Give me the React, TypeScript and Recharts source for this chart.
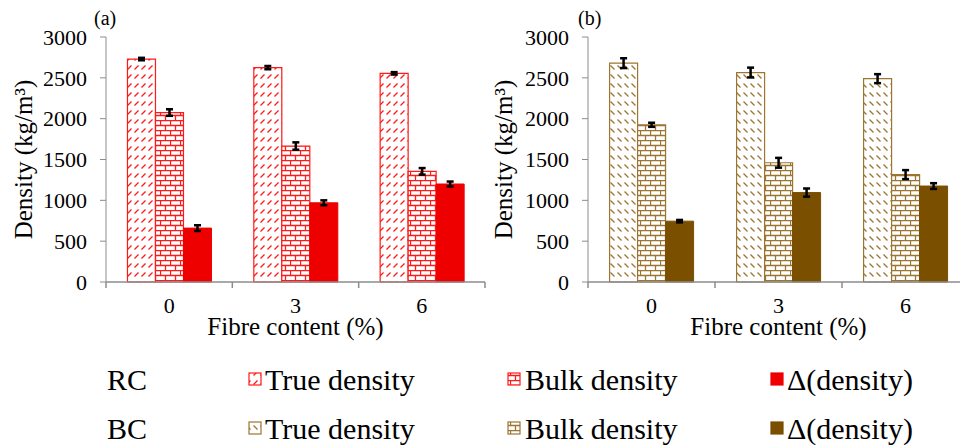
import React from "react";
import { BarChart, Bar, XAxis, YAxis, ErrorBar } from "recharts";

const SERIF = "'Liberation Serif', 'Times New Roman', serif";

const categories = ["0", "3", "6"];
const yTicks = [0, 500, 1000, 1500, 2000, 2500, 3000];

// RC composites, panel (a)
const rcTrue = [2730, 2625, 2555];
const rcTrueErr = [15, 20, 15];
const rcBulk = [2075, 1665, 1355];
const rcBulkErr = [40, 45, 40];
const rcDelta = [660, 970, 1200];
const rcDeltaErr = [35, 30, 30];

// BC composites, panel (b)
const bcTrue = [2680, 2565, 2490];
const bcTrueErr = [60, 60, 55];
const bcBulk = [1925, 1460, 1315];
const bcBulkErr = [25, 60, 55];
const bcDelta = [745, 1095, 1175];
const bcDeltaErr = [15, 50, 35];

const seriesNames = ["True density", "Bulk density", "\u0394(density)"];
const groupNames = ["RC", "BC"];

const RED = "#ff1a1a";
const RED_FILL = "#ee0000";
const BROWN = "#9c7531";
const BROWN_FILL = "#7a4f00";

const buildRows = (t: number[], te: number[], b: number[], be: number[], d: number[], de: number[]) =>
  categories.map((name, i) => ({
    name,
    t: t[i],
    tErr: te[i],
    b: b[i],
    bErr: be[i],
    d: d[i],
    dErr: de[i],
  }));

const rcData = buildRows(rcTrue, rcTrueErr, rcBulk, rcBulkErr, rcDelta, rcDeltaErr);
const bcData = buildRows(bcTrue, bcTrueErr, bcBulk, bcBulkErr, bcDelta, bcDeltaErr);

const CHART_H = 345;
const PLOT_TOP = 37;
const X_AXIS_H = 63;
const AXIS_Y = CHART_H - X_AXIS_H;
const Y_AXIS_W = 70;
const AXIS_GREY = "#8c8c8c";

type PanelProps = {
  data: typeof rcData;
  left: number;
  width: number;
  marginLeft: number;
  marginRight: number;
  titleX: number;
  prefix: string;
  line: string;
  solid: string;
};

function Panel({ data, left, width, marginLeft, marginRight, titleX, prefix, line, solid }: PanelProps) {
  const plotLeft = marginLeft + Y_AXIS_W;
  const plotW = width - plotLeft - marginRight;
  const band = plotW / categories.length;

  // category label at the centre, tick marks on the category boundaries
  const catTick = (p: any) => {
    const last = p.index === categories.length - 1;
    return (
      <g>
        <line x1={p.x - band / 2} x2={p.x - band / 2} y1={AXIS_Y} y2={AXIS_Y + 6} stroke={AXIS_GREY} strokeWidth={1.5} />
        {last && (
          <line x1={p.x + band / 2} x2={p.x + band / 2} y1={AXIS_Y} y2={AXIS_Y + 6} stroke={AXIS_GREY} strokeWidth={1.5} />
        )}
        <text x={p.x} y={AXIS_Y + 31} textAnchor="middle" fontSize={22} fontFamily={SERIF} fill="#000">
          {p.payload.value}
        </text>
      </g>
    );
  };

  const err = { width: 3.5, strokeWidth: 2.5, stroke: "#000", direction: "y" as const };

  return (
    <div style={{ position: "absolute", left, top: 0 }}>
      <BarChart
        width={width}
        height={CHART_H}
        data={data}
        margin={{ top: PLOT_TOP, right: marginRight, left: marginLeft, bottom: 0 }}
        barCategoryGap="17%"
        barGap={0}
      >
        <XAxis
          dataKey="name"
          height={X_AXIS_H}
          interval={0}
          axisLine={{ stroke: AXIS_GREY, strokeWidth: 1.5 }}
          tickLine={false}
          tick={catTick}
          label={{
            content: () => (
              <text x={plotLeft + plotW / 2} y={AXIS_Y + 53} textAnchor="middle" fontSize={25} fontFamily={SERIF} fill="#000">
                Fibre content (%)
              </text>
            ),
          }}
        />
        <YAxis
          domain={[0, 3000]}
          ticks={yTicks}
          width={Y_AXIS_W}
          axisLine={{ stroke: AXIS_GREY }}
          tickLine={{ stroke: AXIS_GREY }}
          tickSize={6}
          tickMargin={13}
          tick={{ fontSize: 22, fontFamily: SERIF, fill: "#000" }}
          label={{
            content: () => (
              <text
                x={titleX}
                y={(PLOT_TOP + AXIS_Y) / 2}
                transform={`rotate(-90 ${titleX} ${(PLOT_TOP + AXIS_Y) / 2})`}
                textAnchor="middle"
                fontSize={25}
                fontFamily={SERIF}
                fill="#000"
              >
                Density (kg/m³)
              </text>
            ),
          }}
        />
        <Bar dataKey="t" fill={`url(#${prefix}True)`} stroke={line} strokeWidth={1.2} isAnimationActive={false}>
          <ErrorBar dataKey="tErr" {...err} />
        </Bar>
        <Bar dataKey="b" fill={`url(#${prefix}Bulk)`} stroke={line} strokeWidth={1.2} isAnimationActive={false}>
          <ErrorBar dataKey="bErr" {...err} />
        </Bar>
        <Bar dataKey="d" fill={solid} stroke={solid} strokeWidth={1} isAnimationActive={false}>
          <ErrorBar dataKey="dErr" {...err} />
        </Bar>
      </BarChart>
    </div>
  );
}

// legend geometry
const legendIconX = [249, 508, 771];
const legendTextX = [265, 525, 787];
const legendRowY = [379, 428];

export default function App() {
  const groups = [
    { prefix: "rc", line: RED, solid: RED_FILL },
    { prefix: "bc", line: BROWN, solid: BROWN_FILL },
  ];

  return (
    <div
      style={{
        position: "absolute",
        left: 0,
        top: 0,
        width: 960,
        height: 445,
        overflow: "hidden",
        background: "#fff",
        fontFamily: SERIF,
      }}
    >
      <svg width={960} height={445} style={{ position: "absolute", left: 0, top: 0 }}>
        <defs>
          {groups.map((g) => (
            <React.Fragment key={g.prefix}>
              <pattern id={`${g.prefix}True`} patternUnits="userSpaceOnUse" width={7} height={9}>
                <rect width={7} height={9} fill="#fff" />
                {g.prefix === "rc" ? (
                  <line x1={1.5} y1={6.5} x2={5.5} y2={2.5} stroke={g.line} strokeWidth={1.2} />
                ) : (
                  <line x1={1.5} y1={2.5} x2={5.5} y2={6.5} stroke={g.line} strokeWidth={1.2} />
                )}
              </pattern>
              <pattern id={`${g.prefix}Bulk`} patternUnits="userSpaceOnUse" width={10} height={10}>
                <rect width={10} height={10} fill="#fff" />
                <path d="M0 0.5H10 M0 5.5H10 M0.5 0.5V5.5 M5.5 5.5V10.5" stroke={g.line} strokeWidth={1.3} fill="none" />
              </pattern>
            </React.Fragment>
          ))}
        </defs>

        <text x={94} y={25} fontSize={20} fontFamily={SERIF} fill="#000">(a)</text>
        <text x={578} y={25} fontSize={20} fontFamily={SERIF} fill="#000">(b)</text>

        {groups.map((g, r) => {
          const cy = legendRowY[r];
          const fills = [`url(#${g.prefix}True)`, `url(#${g.prefix}Bulk)`, g.solid];
          return (
            <g key={g.prefix}>
              <text x={107} y={cy + 11} fontSize={30} fontFamily={SERIF} fill="#000">
                {groupNames[r]}
              </text>
              {seriesNames.map((s, i) => (
                <g key={s}>
                  <rect x={legendIconX[i]} y={cy - 6} width={12} height={12} fill={fills[i]} stroke={i === 2 ? g.solid : g.line} strokeWidth={1.2} />
                  <text x={legendTextX[i]} y={cy + 11} fontSize={30} fontFamily={SERIF} fill="#000">
                    {s}
                  </text>
                </g>
              ))}
            </g>
          );
        })}
      </svg>

      <Panel data={rcData} left={0} width={490} marginLeft={36} marginRight={5} titleX={32} prefix="rc" line={RED} solid={RED_FILL} />
      <Panel data={bcData} left={490} width={480} marginLeft={28} marginRight={1} titleX={22} prefix="bc" line={BROWN} solid={BROWN_FILL} />
    </div>
  );
}
